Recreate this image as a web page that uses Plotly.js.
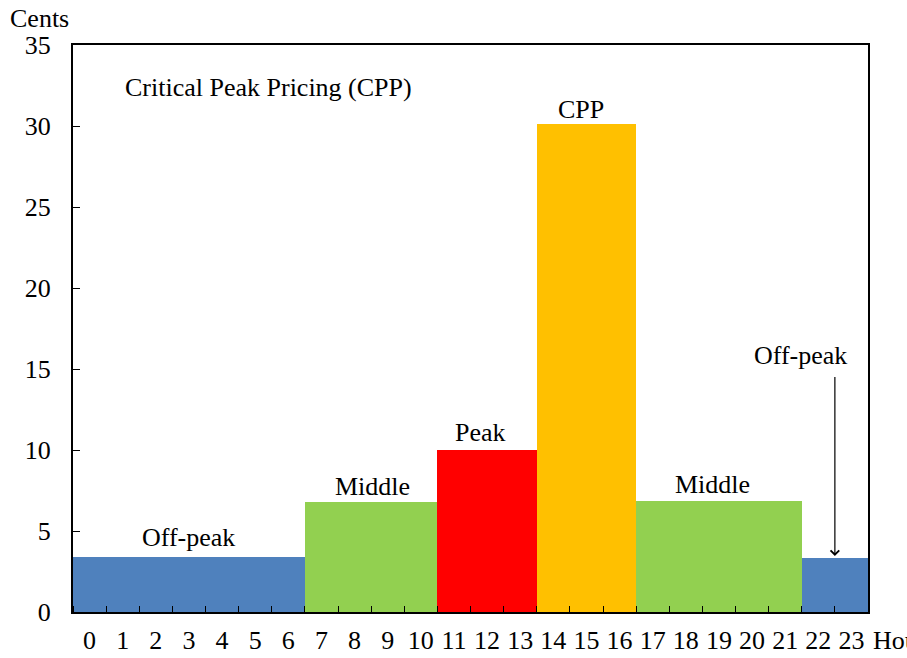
<!DOCTYPE html>
<html>
<head>
<meta charset="utf-8">
<script src="https://cdn.plot.ly/plotly-3.0.1.min.js"></script>
<style>
html,body{margin:0;padding:0;background:#fff;}
#chart{width:907px;height:658px;}
</style>
</head>
<body>
<div id="chart"></div>
<script>
// Data
const hours = [0,1,2,3,4,5,6,7,8,9,10,11,12,13,14,15,16,17,18,19,20,21,22,23];
const hourLabels = hours.map(String);
const cents = [3.4,3.4,3.4,3.4,3.4,3.4,3.4, 6.8,6.8,6.8,6.8, 10,10,10, 30.1,30.1,30.1, 6.85,6.85,6.85,6.85,6.85, 3.35,3.35];
const periods = ["Off-peak","Off-peak","Off-peak","Off-peak","Off-peak","Off-peak","Off-peak",
  "Middle","Middle","Middle","Middle","Peak","Peak","Peak","CPP","CPP","CPP",
  "Middle","Middle","Middle","Middle","Middle","Off-peak","Off-peak"];
const periodColors = {"Off-peak":"#4F81BD","Middle":"#92D050","Peak":"#FF0000","CPP":"#FFC000"};
const yTicks = [0,5,10,15,20,25,30,35];

const FONT = "'Liberation Serif', 'Times New Roman', serif";
const FS = 26;

const trace = {
  type: "bar",
  x: hours,
  y: cents,
  width: 1,
  marker: {color: periods.map(p => periodColors[p]), line: {width: 0}},
  hoverinfo: "x+y"
};

const ann = (text, x, y, extra) => Object.assign({
  text, x, y, xref: "x", yref: "y", showarrow: false,
  font: {family: FONT, size: FS, color: "#000"}
}, extra || {});

const layout = {
  width: 907, height: 658,
  margin: {l: 73, r: 39, t: 45, b: 46},
  paper_bgcolor: "#fff", plot_bgcolor: "#fff",
  bargap: 0,
  showlegend: false,
  font: {family: FONT, size: FS, color: "#000"},
  xaxis: {
    range: [-0.5, 23.5],
    tickmode: "array", tickvals: hours, ticktext: hourLabels,
    ticks: "", showgrid: false, zeroline: false,
    showline: true, linecolor: "#000", linewidth: 2, mirror: true,
    tickfont: {family: FONT, size: FS, color: "#000"},
    ticklabelstandoff: 4,
    minor: {tick0: 0.5, dtick: 1, ticks: "inside", ticklen: 6, tickwidth: 1, tickcolor: "#000", showgrid: false},
    fixedrange: true
  },
  yaxis: {
    range: [0, 35],
    tickmode: "array", tickvals: yTicks, ticktext: yTicks.map(String),
    ticks: "inside", ticklen: 7, tickwidth: 1, tickcolor: "#000",
    showgrid: false, zeroline: false,
    showline: true, linecolor: "#000", linewidth: 2, mirror: true,
    tickfont: {family: FONT, size: FS, color: "#000"},
    ticklabelstandoff: 15,
    fixedrange: true
  },
  annotations: [
    {text: "Cents", xref: "paper", yref: "paper", x: -0.082, y: 1.0, xanchor: "left", yanchor: "bottom", yshift: 10, showarrow: false,
     font: {family: FONT, size: FS, color: "#000"}},
    {text: "Hours", xref: "paper", yref: "paper", x: 1.004, y: 0, xanchor: "left", yanchor: "top", yshift: -12, showarrow: false,
     font: {family: FONT, size: FS, color: "#000"}},
    ann("Critical Peak Pricing (CPP)", 1.0, 32.4, {xanchor: "left"}),
    ann("Off-peak", 3, 4.57),
    ann("Middle", 8.55, 7.72),
    ann("Peak", 11.8, 11.1),
    ann("CPP", 14.85, 30.99),
    ann("Middle", 18.8, 7.84),
    ann("Off-peak", 21.45, 15.86),
    {text: "", x: 22.5, y: 3.45, ax: 22.5, ay: 14.6, xref: "x", yref: "y", axref: "x", ayref: "y",
     showarrow: true, arrowhead: 4, arrowsize: 1.4, arrowwidth: 1.2, arrowcolor: "#000"}
  ]
};

Plotly.newPlot("chart", [trace], layout, {displayModeBar: false, staticPlot: true});
</script>
</body>
</html>
